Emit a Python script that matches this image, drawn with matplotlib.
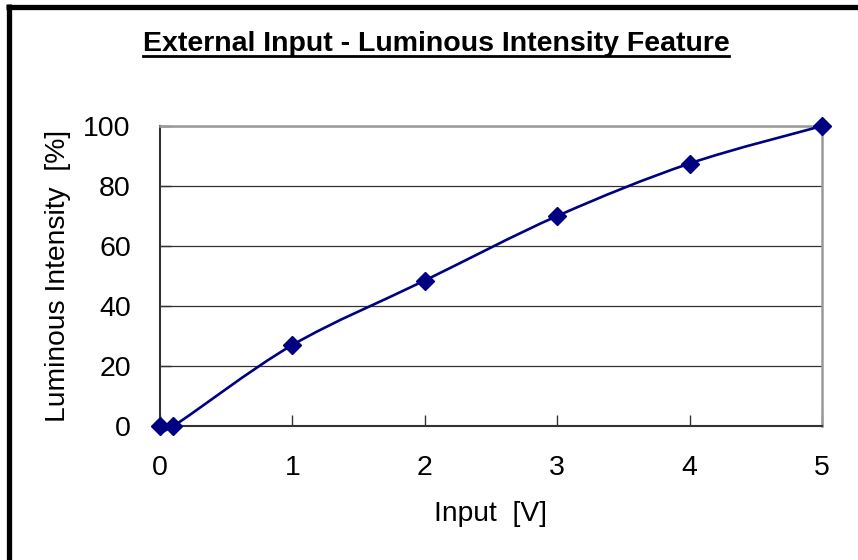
import matplotlib
matplotlib.use("Agg")
import matplotlib.pyplot as plt
from matplotlib.path import Path
from matplotlib.patches import PathPatch
from matplotlib.lines import Line2D

x_input = [0.0, 0.1, 1.0, 2.0, 3.0, 4.0, 5.0]
intensity = [0.0, 0.0, 27.0, 48.5, 70.0, 87.5, 100.0]
x_ticks = [0, 1, 2, 3, 4, 5]
y_ticks = [0, 20, 40, 60, 80, 100]

title = "External Input - Luminous Intensity Feature"
xlabel = "Input  [V]"
ylabel = "Luminous Intensity  [%]"

plt.rcParams['font.family'] = ['Liberation Sans', 'DejaVu Sans']

fig = plt.figure(figsize=(8.58, 5.6), dpi=100)
ax = fig.add_axes([160/858, 1-426/560, (822-160)/858, (426-126)/560])

navy = '#000080'

# Excel-like smoothed line (Bezier through the points)
pts = list(zip(x_input, intensity))
n = len(pts)
verts = [pts[0]]
codes = [Path.MOVETO]
for i in range(n - 1):
    p0 = pts[i - 1] if i > 0 else pts[i]
    p1 = pts[i]
    p2 = pts[i + 1]
    p3 = pts[i + 2] if i + 2 < n else pts[i + 1]
    c1 = (p1[0] + (p2[0] - p0[0]) / 6, p1[1] + (p2[1] - p0[1]) / 6)
    c2 = (p2[0] - (p3[0] - p1[0]) / 6, p2[1] - (p3[1] - p1[1]) / 6)
    verts += [c1, c2, p2]
    codes += [Path.CURVE4] * 3
patch = PathPatch(Path(verts, codes), facecolor='none', edgecolor=navy,
                  lw=1.9, zorder=3, clip_on=False)
ax.add_patch(patch)
ax.plot(x_input, intensity, linestyle='none', marker='D', markersize=9,
        color=navy, zorder=4, clip_on=False)

ax.set_xlim(0, 5)
ax.set_ylim(0, 100)
ax.set_xticks(x_ticks)
ax.set_yticks(y_ticks)
ax.yaxis.grid(True, color='#333333', lw=0.9)
ax.set_axisbelow(True)
ax.tick_params(axis='both', direction='in', length=8, width=1, color='#333333',
               labelsize=20.5, labelcolor='black')
ax.tick_params(axis='x', pad=21)
ax.tick_params(axis='y', pad=21)
for s in ['left', 'bottom']:
    ax.spines[s].set_color('#333333')
    ax.spines[s].set_linewidth(1.5)
for s in ['top', 'right']:
    ax.spines[s].set_color('#999999')
    ax.spines[s].set_linewidth(1.8)

ax.set_xlabel(xlabel, fontsize=20.3, labelpad=14)
ax.set_ylabel(ylabel, fontsize=20.3, labelpad=9)

t = fig.text(436/858, 1-44/560, title, ha='center', va='center',
             fontsize=20.5, fontweight='bold')

fig.canvas.draw()
bb = t.get_window_extent()
uy = bb.y0 + 1
fig.add_artist(Line2D([bb.x0 / fig.bbox.width, bb.x1 / fig.bbox.width],
                      [uy / fig.bbox.height, uy / fig.bbox.height],
                      transform=fig.transFigure, color='black', lw=2))

# Chart-area border (left and top)
fig.add_artist(Line2D([8.5/858, 8.5/858], [0, 1-4/560], transform=fig.transFigure,
                      color='black', lw=3.8, solid_capstyle='butt'))
fig.add_artist(Line2D([6/858, 1], [1-6.5/560, 1-6.5/560], transform=fig.transFigure,
                      color='black', lw=3.8, solid_capstyle='butt'))

fig.savefig('out.png', dpi=100)
